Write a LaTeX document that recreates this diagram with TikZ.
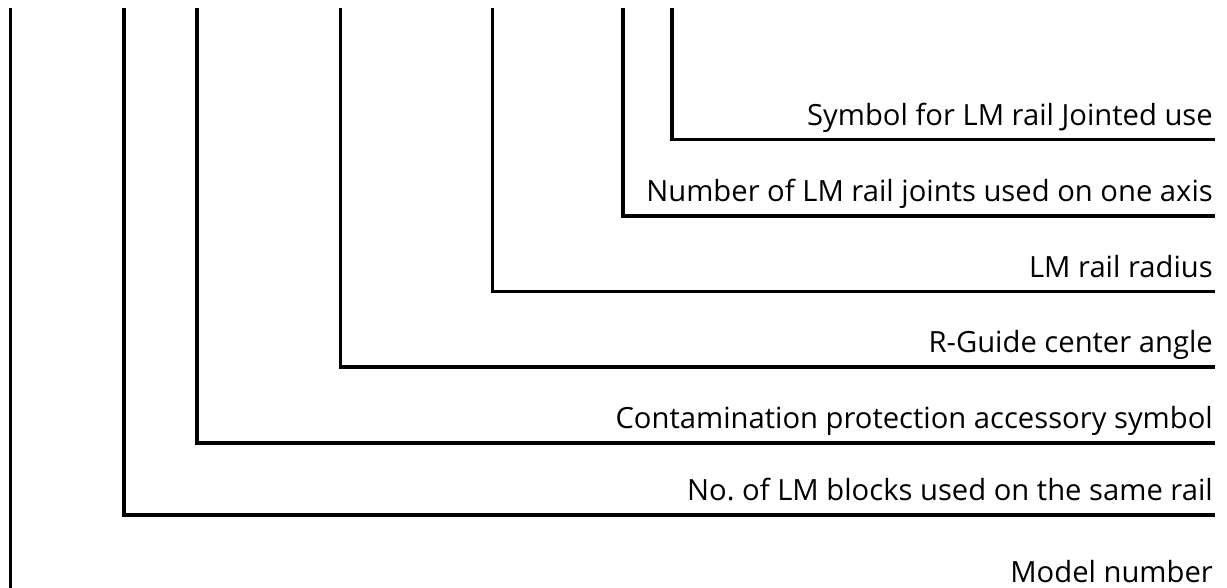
\documentclass[tikz,border=0pt]{standalone}
\usepackage{fontspec}
\setmainfont{Open Sans}
\begin{document}
\begin{tikzpicture}[x=1pt,y=-1pt,
  bracket/.style={line width=3.3pt,line join=miter,line cap=butt},
  lbl/.style={anchor=base east,inner sep=0pt,font=\fontsize{29.2}{35}\selectfont}]
\useasboundingbox (0,0) rectangle (1227,587);
% labels
\node[lbl] (t7) at (1213,125) {Symbol for LM rail Jointed use};
\node[lbl] (t6) at (1213,201.5) {Number of LM rail joints used on one axis};
\node[lbl] (t5) at (1213,277) {LM rail radius};
\node[lbl] (t4) at (1213,352.5) {R-Guide center angle};
\node[lbl] (t3) at (1213,428.5) {Contamination protection accessory symbol};
\node[lbl] (t2) at (1213,500.5) {No.\ of LM blocks used on the same rail};
\node[lbl] (t1) at (1213,582) {Model number};
% tops and ends
\coordinate (a1) at (10.5,8);  \coordinate (b1) at (10.5,592);
\coordinate (a2) at (124,8);   \coordinate (c2) at (124,515);   \coordinate (e2) at (1215,515);
\coordinate (a3) at (197,8);   \coordinate (c3) at (197,443);   \coordinate (e3) at (1215,443);
\coordinate (a4) at (340.5,8); \coordinate (c4) at (340.5,367); \coordinate (e4) at (1215,367);
\coordinate (a5) at (492.5,8); \coordinate (c5) at (492.5,291.5); \coordinate (e5) at (1215,291.5);
\coordinate (a6) at (623,8);   \coordinate (c6) at (623,216);   \coordinate (e6) at (1215,216);
\coordinate (a7) at (672,8);   \coordinate (c7) at (672,139.5); \coordinate (e7) at (1215,139.5);
\draw[bracket] (a1) -- (b1);
\draw[bracket] (a2) -- (c2) -- (e2);
\draw[bracket] (a3) -- (c3) -- (e3);
\draw[bracket] (a4) -- (c4) -- (e4);
\draw[bracket] (a5) -- (c5) -- (e5);
\draw[bracket] (a6) -- (c6) -- (e6);
\draw[bracket] (a7) -- (c7) -- (e7);
\end{tikzpicture}
\end{document}
